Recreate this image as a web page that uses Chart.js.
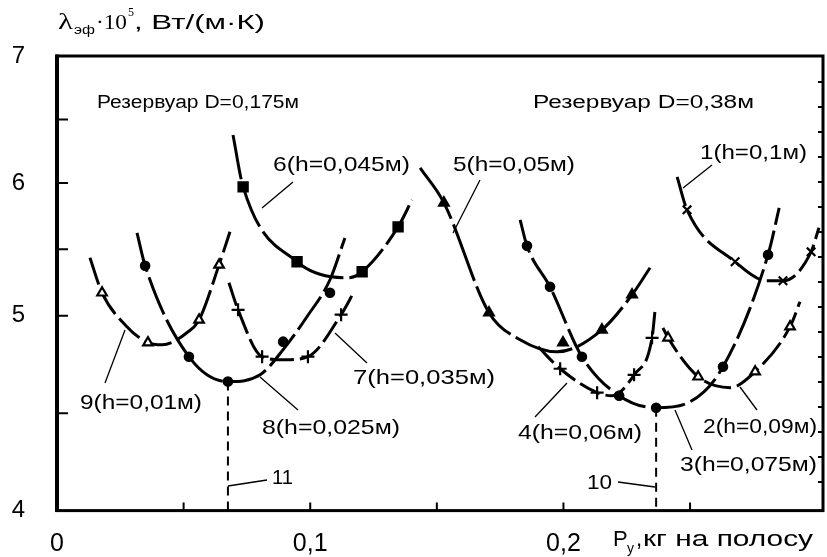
<!DOCTYPE html>
<html>
<head>
<meta charset="utf-8">
<script src="https://cdn.jsdelivr.net/npm/chart.js@4.4.1/dist/chart.umd.min.js"></script>
<style>
  html, body { margin: 0; background: #fff; }
  #wrap { width: 827px; height: 557px; }
</style>
</head>
<body>
<div id="wrap"><canvas id="grafico"></canvas></div>
<script>
// axis ticks
const xTicks = [0, 0.05, 0.1, 0.15, 0.2, 0.25];
const xLabels = ["0", "", "0,1", "", "0,2", ""];
const yTicks = [4, 4.5, 5, 5.5, 6, 6.5, 7];
const yLabels = ["4", "", "5", "", "6", "", "7"];
// the printed y axis is not evenly spaced: value -> fraction of height
const yKnotVal = [4, 5, 6, 7];
const yKnotPos = [0, 0.4286, 0.7209, 1];

// curve 1 (h=0,1м)  x marks
const c1LineX = [0.2449, 0.2488, 0.2678, 0.2804, 0.2867, 0.2978, 0.3009];
const c1LineY = [6.047, 5.797, 5.406, 5.263, 5.263, 5.481, 5.662];
const c1MarkX = [0.2488, 0.2678, 0.2867, 0.2978];
const c1MarkY = [5.797, 5.406, 5.263, 5.481];
// curve 2 (h=0,09м)  open triangles
const c2LineX = [0.2393, 0.2413, 0.2532, 0.2658, 0.2757, 0.2895, 0.2934];
const c2LineY = [4.938, 4.887, 4.687, 4.631, 4.713, 4.944, 5.105];
const c2MarkX = [0.2413, 0.2532, 0.2757, 0.2895];
const c2MarkY = [4.887, 4.687, 4.713, 4.944];
// curve 3 (h=0,075м)  circles
const c3LineX = [0.1829, 0.1856, 0.1947, 0.2073, 0.2220, 0.2366, 0.2500, 0.2630, 0.2808, 0.2852];
const c3LineY = [5.722, 5.526, 5.218, 4.790, 4.590, 4.528, 4.559, 4.738, 5.459, 5.812];
const c3MarkX = [0.1856, 0.1947, 0.2073, 0.2220, 0.2366, 0.2630, 0.2808];
const c3MarkY = [5.526, 5.218, 4.790, 4.590, 4.528, 4.738, 5.459];
// curve 4 (h=0,06м)  crosses
const c4LineX = [0.1900, 0.1987, 0.2133, 0.2192, 0.2279, 0.2350, 0.2362];
const c4LineY = [4.841, 4.728, 4.605, 4.590, 4.697, 4.887, 5.045];
const c4MarkX = [0.1987, 0.2133, 0.2279, 0.2350];
const c4MarkY = [4.728, 4.605, 4.697, 4.887];
// curve 5 (h=0,05м)  filled triangles
const c5LineX = [0.1434, 0.1528, 0.1706, 0.1829, 0.1975, 0.2152, 0.2271, 0.2342];
const c5LineY = [6.118, 5.850, 5.023, 4.877, 4.815, 4.928, 5.158, 5.361];
const c5MarkX = [0.1528, 0.1706, 0.1998, 0.2152, 0.2271];
const c5MarkY = [5.850, 5.023, 4.862, 4.928, 5.158];
// curve 6 (h=0,045м)  squares
const c6LineX = [0.0695, 0.0735, 0.0948, 0.1149, 0.1205, 0.1347, 0.1402];
const c6LineY = [6.378, 5.970, 5.406, 5.286, 5.331, 5.669, 5.872];
const c6MarkX = [0.0735, 0.0948, 0.1205, 0.1347];
const c6MarkY = [5.970, 5.406, 5.331, 5.669];
// curve 7 (h=0,035м)  crosses
const c7LineX = [0.0679, 0.0715, 0.0810, 0.0900, 0.0991, 0.1122, 0.1173];
const c7LineY = [5.248, 5.045, 4.790, 4.774, 4.790, 5.008, 5.180];
const c7MarkX = [0.0715, 0.0810, 0.0991, 0.1122];
const c7MarkY = [5.045, 4.790, 4.790, 5.008];
// curve 8 (h=0,025м)  circles
const c8LineX = [0.0316, 0.0348, 0.0521, 0.0675, 0.0802, 0.0893, 0.0987, 0.1078, 0.1137];
const c8LineY = [5.624, 5.376, 4.790, 4.662, 4.697, 4.826, 4.995, 5.271, 5.586];
const c8MarkX = [0.0348, 0.0521, 0.0675, 0.0893, 0.1078];
const c8MarkY = [5.376, 4.790, 4.662, 4.867, 5.173];
// curve 9 (h=0,01м)  open triangles
const c9LineX = [0.0130, 0.0178, 0.0276, 0.0359, 0.0415, 0.0513, 0.0561, 0.0640, 0.0683];
const c9LineY = [5.436, 5.173, 4.944, 4.862, 4.851, 4.913, 4.979, 5.383, 5.632];
const c9MarkX = [0.0178, 0.0359, 0.0561, 0.0640];
const c9MarkY = [5.173, 4.862, 4.979, 5.383];
// dashed minimum lines 10 and 11
const line10X = [0.2366, 0.2366];
const line10Y = [4.528, 4];
const line11X = [0.0675, 0.0675];
const line11Y = [4.662, 4];

// labels: text, left, right, centre y (px), font size
const notas = [
  ["Резервуар D=0,175м", 97, 299, 103, 18],
  ["Резервуар D=0,38м", 533, 754, 103, 18],
  ["6(h=0,045м)", 273, 410, 165, 21],
  ["5(h=0,05м)", 453, 575, 165, 21],
  ["1(h=0,1м)", 700, 807, 153, 21],
  ["7(h=0,035м)", 353, 495, 378, 21],
  ["8(h=0,025м)", 262, 400, 428, 21],
  ["9(h=0,01м)", 80, 202, 403, 21],
  ["4(h=0,06м)", 518, 642, 433, 21],
  ["2(h=0,09м)", 703, 817, 427, 21],
  ["3(h=0,075м)", 680, 817, 465, 21],
  ["11", 272, 293, 478, 21],
  ["10", 587, 612, 483, 21]
];
const flechas = [
  [293, 182, 262, 208], [480, 180, 453, 233], [712, 165, 683, 188],
  [367, 363, 335, 333], [298, 410, 260, 377], [105, 383, 125, 330],
  [535, 417, 567, 383], [757, 410, 740, 387], [692, 450, 675, 410],
  [267, 480, 228, 486], [618, 482, 655, 487]
];

function interp(v, from, to) {
  for (let i = 0; i < from.length - 1; i++) {
    if (v <= from[i + 1] || i == from.length - 2) {
      return to[i] + (v - from[i]) * (to[i + 1] - to[i]) / (from[i + 1] - from[i]);
    }
  }
}
class PieceScale extends Chart.LinearScale {
  getPixelForValue(v) {
    return this.getPixelForDecimal(interp(v, yKnotVal, yKnotPos));
  }
  getValueForPixel(p) {
    return interp(this.getDecimalForPixel(p), yKnotPos, yKnotVal);
  }
}
PieceScale.id = "piecewise";
PieceScale.defaults = Chart.LinearScale.defaults;
Chart.register(PieceScale);

function pts(xs, ys) {
  return xs.map((x, i) => ({ x: x, y: ys[i] }));
}
function curva(xs, ys, dash) {
  return {
    data: pts(xs, ys), borderColor: "#000", borderWidth: 3, borderDash: dash,
    pointRadius: 0, cubicInterpolationMode: "monotone", fill: false, order: 2
  };
}
function marcas(xs, ys, style, r, filled) {
  return {
    data: pts(xs, ys), showLine: false, pointStyle: style, pointRadius: r,
    pointBorderColor: "#000", pointBackgroundColor: filled ? "#000" : "#fff",
    pointBorderWidth: 2.2, order: 0
  };
}
function texto(ctx, txt, left, cy, size, width, family) {
  ctx.font = size + "px " + family;
  let w = ctx.measureText(txt).width;
  ctx.save();
  ctx.translate(left, cy);
  if (width) ctx.scale(width / w, 1);
  ctx.textAlign = "left";
  ctx.textBaseline = "middle";
  ctx.fillStyle = "#000";
  ctx.fillText(txt, 0, 0);
  ctx.restore();
}

const sans = "'Liberation Sans', Arial, sans-serif";
const serif = "'Liberation Serif', 'Times New Roman', serif";

const dibujo = {
  id: "dibujo",
  afterDraw(chart) {
    const ctx = chart.ctx;
    const a = chart.chartArea;
    const xs = chart.scales.x, ys = chart.scales.y;
    ctx.save();
    ctx.strokeStyle = "#000";
    ctx.lineWidth = 3;
    ctx.strokeRect(a.left, a.top, a.right - a.left, a.bottom - a.top);
    ctx.lineWidth = 4;
    ctx.beginPath();
    ctx.moveTo(a.left, a.top - 1.5);
    ctx.lineTo(a.left, a.bottom + 1.5);
    ctx.stroke();
    // inward ticks
    ctx.lineWidth = 2;
    ctx.beginPath();
    ys.ticks.forEach(t => {
      if (t.value > 4 && t.value < 7) {
        let p = ys.getPixelForValue(t.value);
        ctx.moveTo(a.left, p);
        ctx.lineTo(a.left + 11, p);
      }
    });
    xs.ticks.forEach(t => {
      if (t.value > 0 && t.value < 0.29) {
        let p = xs.getPixelForValue(t.value);
        ctx.moveTo(p, a.bottom);
        ctx.lineTo(p, a.bottom - 8);
      }
    });
    for (let p = a.top + 26; p < a.bottom - 5; p += 25) {
      ctx.moveTo(a.right, p);
      ctx.lineTo(a.right - 5, p);
    }
    ctx.stroke();
    // leader lines
    ctx.lineWidth = 1.3;
    ctx.beginPath();
    flechas.forEach(f => {
      ctx.moveTo(f[0], f[1]);
      ctx.lineTo(f[2], f[3]);
    });
    ctx.stroke();
    notas.forEach(n => texto(ctx, n[0], n[1], n[3], n[4], n[2] - n[1], sans));
    // axis titles
    texto(ctx, "λ", 58, 23, 23, 15, serif);
    texto(ctx, "эф", 74, 30, 13, 21, sans);
    texto(ctx, "·10", 96, 23, 21, 31, serif);
    texto(ctx, "5", 128, 13, 12, 0, serif);
    texto(ctx, ", Вт/(м·К)", 134, 23, 21, 131, sans);
    texto(ctx, "P", 613, 540, 22, 0, sans);
    texto(ctx, "y", 627, 549, 14, 0, sans);
    texto(ctx, ",", 636, 540, 22, 0, sans);
    texto(ctx, "кг на полосу", 643, 540, 22, 170, sans);
    ctx.restore();
  }
};

const datasets = [
  marcas(c1MarkX, c1MarkY, "crossRot", 6, true),
  marcas(c2MarkX, c2MarkY, "triangle", 5.5, false),
  marcas(c3MarkX, c3MarkY, "circle", 4.2, true),
  marcas(c4MarkX, c4MarkY, "cross", 6.5, true),
  marcas(c5MarkX, c5MarkY, "triangle", 5.5, true),
  marcas(c6MarkX, c6MarkY, "rect", 6.5, true),
  marcas(c7MarkX, c7MarkY, "cross", 6.5, true),
  marcas(c8MarkX, c8MarkY, "circle", 4.2, true),
  marcas(c9MarkX, c9MarkY, "triangle", 5.5, false),
  curva(c1LineX, c1LineY, [30, 6]),
  curva(c2LineX, c2LineY, [28, 6]),
  curva(c3LineX, c3LineY, [34, 6]),
  curva(c4LineX, c4LineY, [22, 6]),
  curva(c5LineX, c5LineY, [60, 6]),
  curva(c6LineX, c6LineY, [45, 6]),
  curva(c7LineX, c7LineY, [24, 6]),
  curva(c8LineX, c8LineY, [40, 6]),
  curva(c9LineX, c9LineY, [28, 6]),
  { data: pts(line10X, line10Y), borderColor: "#000", borderWidth: 2, borderDash: [9, 6], pointRadius: 0, order: 3 },
  { data: pts(line11X, line11Y), borderColor: "#000", borderWidth: 2, borderDash: [9, 6], pointRadius: 0, order: 3 }
];

new Chart(document.getElementById("grafico"), {
  type: "line",
  data: { datasets: datasets },
  plugins: [dibujo],
  options: {
    responsive: true,
    maintainAspectRatio: false,
    animation: false,
    layout: { autoPadding: false, padding: { top: 56, right: 4, left: 0, bottom: 0 } },
    plugins: { legend: { display: false }, tooltip: { enabled: false } },
    scales: {
      x: {
        type: "linear", min: 0, max: 0.3025,
        afterFit: s => { s.height = 46; },
        afterBuildTicks: s => { s.ticks = xTicks.map(v => ({ value: v })); },
        grid: { display: false, drawTicks: false },
        border: { display: false },
        ticks: {
          autoSkip: false, maxRotation: 0, padding: 19, color: "#000",
          font: { family: sans, size: 25 },
          callback: (v, i) => xLabels[i]
        }
      },
      y: {
        type: "piecewise", min: 4, max: 7,
        afterFit: s => { s.width = 57; },
        afterBuildTicks: s => { s.ticks = yTicks.map(v => ({ value: v })); },
        grid: { display: false, drawTicks: false },
        border: { display: false },
        ticks: {
          autoSkip: false, padding: 32, color: "#000",
          font: { family: sans, size: 24 },
          callback: (v, i) => yLabels[i]
        }
      }
    }
  }
});
</script>
</body>
</html>
